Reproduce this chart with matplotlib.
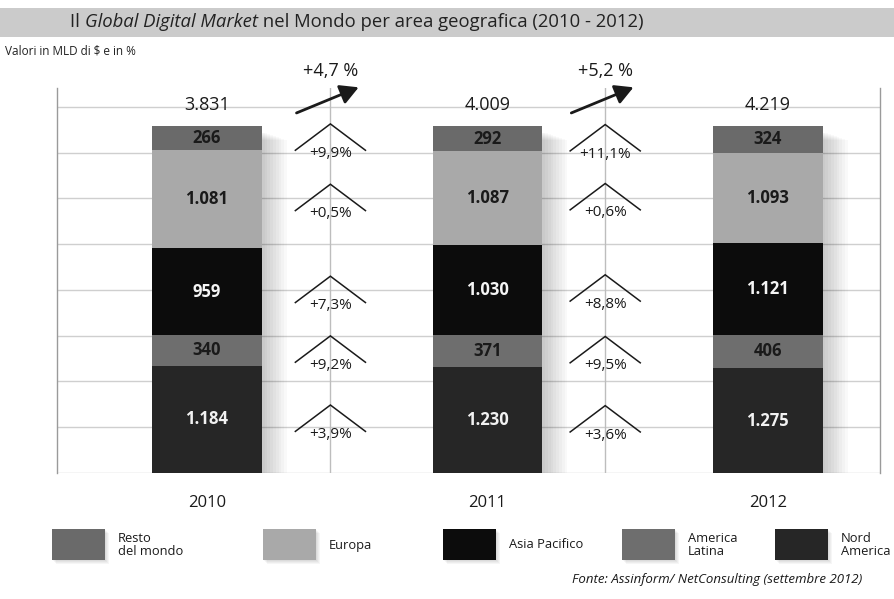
import matplotlib
matplotlib.use("Agg")
import matplotlib.pyplot as plt
from matplotlib.patches import Rectangle
import numpy as np

# ---------------- data ----------------
years = ["2010", "2011", "2012"]
series = ["Nord America", "America Latina", "Asia Pacifico", "Europa", "Resto del mondo"]  # bottom -> top
nord_america = [1184, 1230, 1275]
america_latina = [340, 371, 406]
asia_pacifico = [959, 1030, 1121]
europa = [1081, 1087, 1093]
resto_mondo = [266, 292, 324]
totals = [3831, 4009, 4219]
growth_2010_2011 = [3.9, 9.2, 7.3, 0.5, 9.9]   # same order as series
growth_2011_2012 = [3.6, 9.5, 8.8, 0.6, 11.1]
total_growth = [4.7, 5.2]
legend_labels = ["Resto\ndel mondo", "Europa", "Asia Pacifico", "America\nLatina", "Nord\nAmerica"]

# ---------------- style ----------------
FONT = ["Open Sans", "DejaVu Sans"]
plt.rcParams['font.family'] = FONT
seg_colors = ["#262626", "#6e6e6e", "#0c0c0c", "#a9a9a9", "#6a6a6a"]
seg_text = ["#f2f2f2", "#1a1a1a", "#f5f5f5", "#1a1a1a", "#1a1a1a"]
legend_colors = ["#6a6a6a", "#a9a9a9", "#0c0c0c", "#6e6e6e", "#262626"]

W, H = 895, 599
fig = plt.figure(figsize=(W / 100, H / 100), dpi=100)
fig.patch.set_facecolor("white")

def fx(px):
    return px / W

def fy(py):
    return 1 - py / H

# title band
fig.patches.append(Rectangle((0, fy(37)), 1, 29 / H, transform=fig.transFigure,
                             facecolor="#cbcbcb", edgecolor="none", zorder=0))

# title with mixed styles
renderer = fig.canvas.get_renderer()
x0 = fx(70)
parts = [("Il ", "normal"), ("Global Digital Market", "italic"),
         (" nel Mondo per area geografica (2010 - 2012)", "normal")]
for txt, st in parts:
    t = fig.text(x0, fy(22), txt, fontsize=13.3, style=st, color="#222222",
                 va="center", ha="left")
    bb = t.get_window_extent(renderer=renderer)
    x0 += bb.width / (W)

fig.text(fx(5), fy(51), "Valori in MLD di \\$ e in %", fontsize=8.5, color="#222222",
         va="center", ha="left")

# ---------------- axes ----------------
ax = fig.add_axes([fx(57), fy(473), fx(880) - fx(57), (473 - 88) / H])
xs = np.arange(len(years))
ax.set_xlim(-0.535, 2.40)
ax.set_ylim(0, 111)

vals = np.array([nord_america, america_latina, asia_pacifico, europa, resto_mondo], dtype=float)
tot = np.array(totals, dtype=float)
shares = vals / vals.sum(axis=0) * 100

# gridlines
for gy in np.arange(0, 111, 13.2):
    ax.axhline(gy, color="#cfcfcf", lw=1.0, zorder=0)
for s in ["top", "bottom"]:
    ax.spines[s].set_visible(False)
for s in ["left", "right"]:
    ax.spines[s].set_color("#9a9a9a")
    ax.spines[s].set_linewidth(1.0)

sep_x = [0.44, 1.42]
for sx in sep_x:
    ax.axvline(sx, color="#bdbdbd", lw=1.0, zorder=0)

bw = 0.39
# soft shadows
for i in xs:
    for k in range(10):
        ax.add_patch(Rectangle((i - bw / 2 + 0.004 * k, -0.6 - 0.25 * k), bw + 0.006 * k,
                               99, facecolor="#000000", alpha=0.022,
                               edgecolor="none", zorder=1))

bottom = np.zeros(len(years))
for si in range(len(series)):
    ax.bar(xs, shares[si], bw, bottom=bottom, color=seg_colors[si], zorder=3,
           edgecolor="none")
    for i in xs:
        label = f"{int(vals[si, i]):,}".replace(",", ".")
        ax.text(i, bottom[i] + shares[si, i] / 2, label, ha="center", va="center",
                fontsize=12, fontweight="bold", color=seg_text[si], zorder=5)
    bottom += shares[si]

# totals
for i in xs:
    ax.text(i, 106, f"{int(tot[i]):,}".replace(",", "."), ha="center", va="center",
            fontsize=13, color="#1a1a1a", clip_on=False)

# growth chevrons
cum = np.vstack([np.zeros(len(years)), np.cumsum(shares, axis=0)])
growths = [growth_2010_2011, growth_2011_2012]
for j, sx in enumerate(sep_x):
    for si in range(len(series)):
        mids = (cum[si] + cum[si + 1]) / 2
        cy = (mids[j] + mids[j + 1]) / 2
        ax.plot([sx - 0.125, sx, sx + 0.125], [cy - 3.4, cy + 4.2, cy - 3.4],
                color="#1a1a1a", lw=1.1, zorder=4, solid_joinstyle="miter")
        ax.text(sx, cy - 4.3, f"+{growths[j][si]:.1f}%".replace(".", ","),
                ha="center", va="center", fontsize=11, color="#1a1a1a", zorder=5)

# total growth arrows
for j, sx in enumerate(sep_x):
    ax.annotate("", xy=(sx + 0.11, 111.5), xytext=(sx - 0.13, 103.5),
                arrowprops=dict(arrowstyle="-|>,head_length=1.1,head_width=0.6",
                                color="#1a1a1a", lw=2.0), annotation_clip=False)
    ax.text(sx, 115.8, f"+{total_growth[j]:.1f} %".replace(".", ","), ha="center",
            va="center", fontsize=13, color="#1a1a1a", clip_on=False)

ax.set_xticks(xs)
ax.set_xticklabels(years, fontsize=12, color="#1a1a1a")
ax.tick_params(axis="x", length=0, pad=16)
ax.set_yticks([])

# ---------------- legend ----------------
sw_x = [52, 263, 443, 622, 775]
for k, (lab, col) in enumerate(zip(legend_labels, legend_colors)):
    for s in range(4):
        fig.patches.append(Rectangle((fx(sw_x[k] + 1 + s), fy(561 + s)), 53 / W, 31 / H,
                                     transform=fig.transFigure, facecolor="#000000",
                                     alpha=0.035, edgecolor="none"))
    fig.patches.append(Rectangle((fx(sw_x[k]), fy(560)), 53 / W, 31 / H,
                                 transform=fig.transFigure, facecolor=col,
                                 edgecolor="none"))
    fig.text(fx(sw_x[k] + 66), fy(545), lab, fontsize=9.3, color="#1a1a1a",
             va="center", ha="left", linespacing=0.95)

fig.text(fx(862), fy(579), "Fonte: Assinform/ NetConsulting (settembre 2012)",
         fontsize=9.5, style="italic", color="#1a1a1a", ha="right", va="center")

fig.savefig("out.png", dpi=100)
